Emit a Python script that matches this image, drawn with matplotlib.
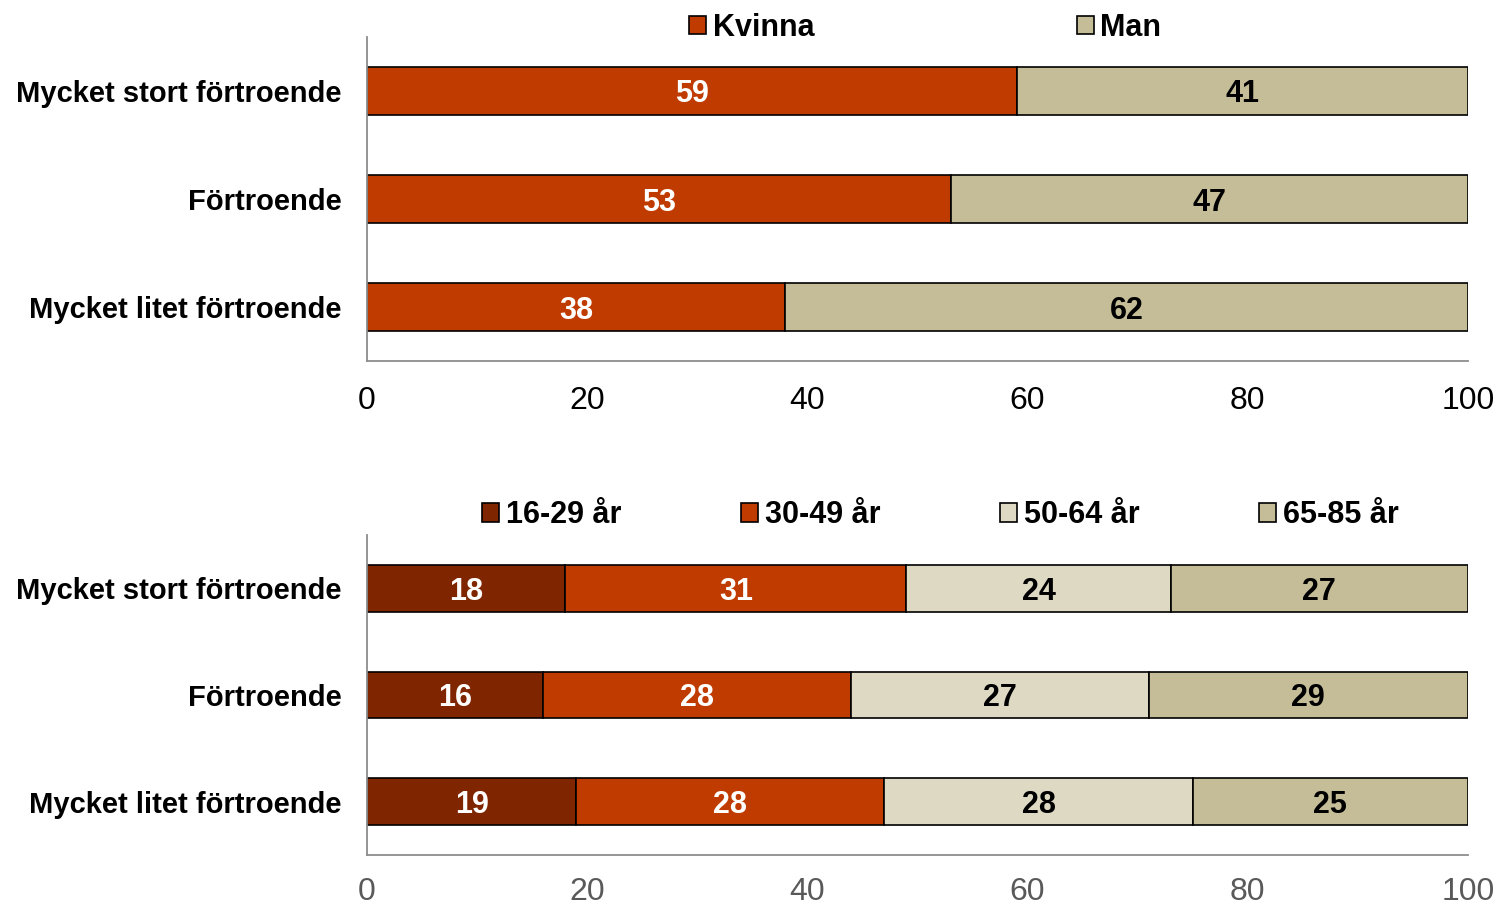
import matplotlib.pyplot as plt
import numpy as np

categories = ['Mycket stort förtroende', 'Förtroende', 'Mycket litet förtroende']

# kön
gender_labels = ['Kvinna', 'Man']
kvinna = [59, 53, 38]
man = [41, 47, 62]

# ålder
age_labels = ['16-29 år', '30-49 år', '50-64 år', '65-85 år']
age_16_29 = [18, 16, 19]
age_30_49 = [31, 28, 28]
age_50_64 = [24, 27, 28]
age_65_85 = [27, 29, 25]

ticks = [0, 20, 40, 60, 80, 100]

plt.rcParams['font.family'] = ['Liberation Sans', 'DejaVu Sans']

fig = plt.figure(figsize=(14.96, 9.06), dpi=100)
ax1 = fig.add_axes([0.2453, 0.6015, 0.736, 0.3577])
ax2 = fig.add_axes([0.2453, 0.0563, 0.736, 0.3532])


def stacked(ax, series, names, colors, text_colors, legend_kw, tick_color, xpad):
    y = np.arange(len(categories))[::-1]
    left = np.zeros(len(categories))
    for vals, name, col, tcol in zip(series, names, colors, text_colors):
        bars = ax.barh(y, vals, left=left, height=0.44, color=col,
                       edgecolor='black', linewidth=1.2, label=name)
        txt = ax.bar_label(bars, label_type='center', fontsize=22,
                           fontweight='bold', color=tcol)
        for t in txt:
            t.set_va('center_baseline')
        left += np.array(vals)
    ax.set_xlim(0, 100)
    ax.set_ylim(-0.5, 2.5)
    ax.set_yticks(y)
    ax.set_yticklabels(categories, fontsize=21, fontweight='bold')
    ax.set_xticks(ticks)
    ax.set_xticklabels([str(t) for t in ticks], fontsize=23, color=tick_color)
    ax.tick_params(axis='both', length=0)
    ax.tick_params(axis='y', pad=18)
    ax.tick_params(axis='x', pad=xpad)
    for s in ['top', 'right']:
        ax.spines[s].set_visible(False)
    for s in ['left', 'bottom']:
        ax.spines[s].set_color('#8c8c8c')
        ax.spines[s].set_linewidth(1.3)
    leg = ax.legend(frameon=False, handlelength=0.55, handleheight=0.55,
                    handletextpad=0.22, borderaxespad=0, borderpad=0,
                    **legend_kw)
    return leg


stacked(ax1, [kvinna, man], gender_labels,
        ['#bf3b00', '#c4bd97'], ['white', 'black'],
        dict(ncol=2, loc='center left', bbox_to_anchor=(0.2925, 1.028),
             columnspacing=8.6, prop={'size': 22, 'weight': 'bold'}),
        'black', 18)

stacked(ax2, [age_16_29, age_30_49, age_50_64, age_65_85], age_labels,
        ['#7f2600', '#bf3b00', '#ddd9c3', '#c4bd97'],
        ['white', 'white', 'black', 'black'],
        dict(ncol=4, loc='center left', bbox_to_anchor=(0.1045, 1.062),
             columnspacing=3.93, prop={'size': 22, 'weight': 'bold'}),
        '#595959', 16)

fig.savefig('out.png', dpi=100)
